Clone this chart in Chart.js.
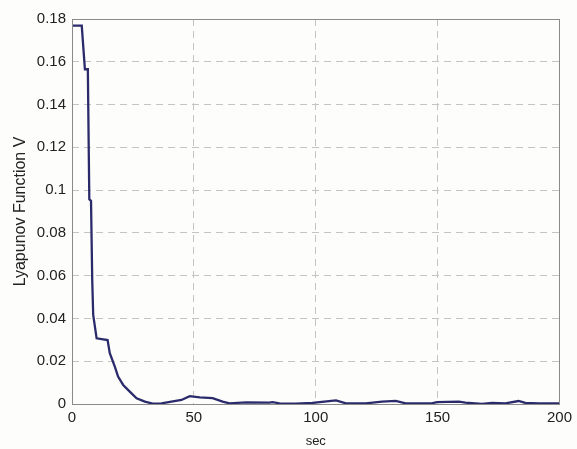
<!DOCTYPE html>
<html>
<head>
<meta charset="UTF-8"/>
<script src="https://cdn.jsdelivr.net/npm/chart.js"></script>
<style>
  html, body { margin:0; padding:0; background:#fdfdfb; }
  #wrap { width:577px; height:449px; }
</style>
</head>
<body>
<div id="wrap"><canvas id="lyap" width="577" height="449"></canvas></div>
<script>
// time samples (s) and Lyapunov function value
const timeSec = [0, 4.0, 5.3, 6.5, 7.1, 7.8, 8.3, 8.7, 10.1, 14.6,
  15.5, 17.6, 18.9, 21.0, 23.7, 26.5, 29.9, 33.1, 36.7, 40.8,
  44.9, 48.3, 52.4, 57.7, 61.8, 64.6, 71.5, 81.0, 82.3, 85.1,
  91.9, 98.6, 108.3, 112.4, 120.5, 127.2, 132.8, 136.9, 147.6, 149.7,
  158.7, 161.4, 168.2, 172.3, 177.8, 183.2, 186.0, 191.4, 200];
const lyapunovV = [0.1769, 0.1769, 0.1565, 0.1565, 0.0957, 0.0950, 0.058, 0.0416, 0.0307, 0.0299,
  0.0238, 0.0174, 0.0128, 0.0089, 0.0058, 0.0027, 0.0011, 0.0002, 0.0003, 0.0011,
  0.0019, 0.0037, 0.0031, 0.0027, 0.0011, 0.0003, 0.0008, 0.0006, 0.0009, 0.0003,
  0.0002, 0.0005, 0.0017, 0.0003, 0.0003, 0.0011, 0.0015, 0.0003, 0.0003, 0.0009,
  0.0011, 0.0006, 0.0001, 0.0005, 0.0003, 0.0014, 0.0005, 0.0003, 0.0003];

const xTicks = [0, 50, 100, 150, 200];
const yTickLabels = ['0', '0.02', '0.04', '0.06', '0.08', '0.1', '0.12', '0.14', '0.16', '0.18'];

const font = 'Liberation Sans, Arial, Helvetica, sans-serif';
const gridColor = '#c4c4c4';

// box around the plot area, like a matlab axes
const frame = {
  id: 'frame',
  afterDraw(chart) {
    const { ctx, chartArea: a } = chart;
    ctx.save();
    ctx.strokeStyle = '#8a8a8a';
    ctx.lineWidth = 1;
    ctx.strokeRect(Math.round(a.left) + 0.5, Math.round(a.top) + 0.5,
      Math.round(a.right - a.left), Math.round(a.bottom - a.top));
    ctx.restore();
  }
};

// hide grid lines that sit on the frame
const innerGrid = ctx => (ctx.index === 0 || ctx.index === ctx.scale.ticks.length - 1) ? 'rgba(0,0,0,0)' : gridColor;

new Chart(document.getElementById('lyap'), {
  type: 'line',
  data: {
    datasets: [{
      data: timeSec.map((t, i) => ({ x: t, y: lyapunovV[i] })),
      borderColor: '#2b2b6c',
      borderWidth: 2.3,
      pointRadius: 0,
      tension: 0,
      fill: false
    }]
  },
  options: {
    responsive: false,
    animation: false,
    layout: { padding: { top: 19, right: 16, left: 0, bottom: 0 } },
    plugins: { legend: { display: false }, tooltip: { enabled: false } },
    scales: {
      x: {
        type: 'linear',
        min: 0, max: 200,
        afterFit: s => { s.height = 45; },
        afterBuildTicks: s => { s.ticks = xTicks.map(v => ({ value: v })); },
        ticks: { color: '#222', padding: 5, font: { family: font, size: 15 } },
        grid: { color: innerGrid, lineWidth: 1, drawTicks: false },
        border: { display: false, dash: [7, 5] },
        title: { display: true, text: 'sec', color: '#222', padding: 0, font: { family: font, size: 13 } }
      },
      y: {
        min: 0, max: 0.18,
        afterFit: s => { s.width = 72; },
        afterBuildTicks: s => { s.ticks = yTickLabels.map(v => ({ value: parseFloat(v) })); },
        ticks: {
          color: '#222', padding: 6, font: { family: font, size: 15 },
          callback: (v, i) => yTickLabels[i]
        },
        grid: { color: innerGrid, lineWidth: 1, drawTicks: false },
        border: { display: false, dash: [7, 5] },
        title: { display: true, text: 'Lyapunov Function V', color: '#222', padding: { top: 11 }, font: { family: font, size: 16 } }
      }
    }
  },
  plugins: [frame]
});
</script>
</body>
</html>
